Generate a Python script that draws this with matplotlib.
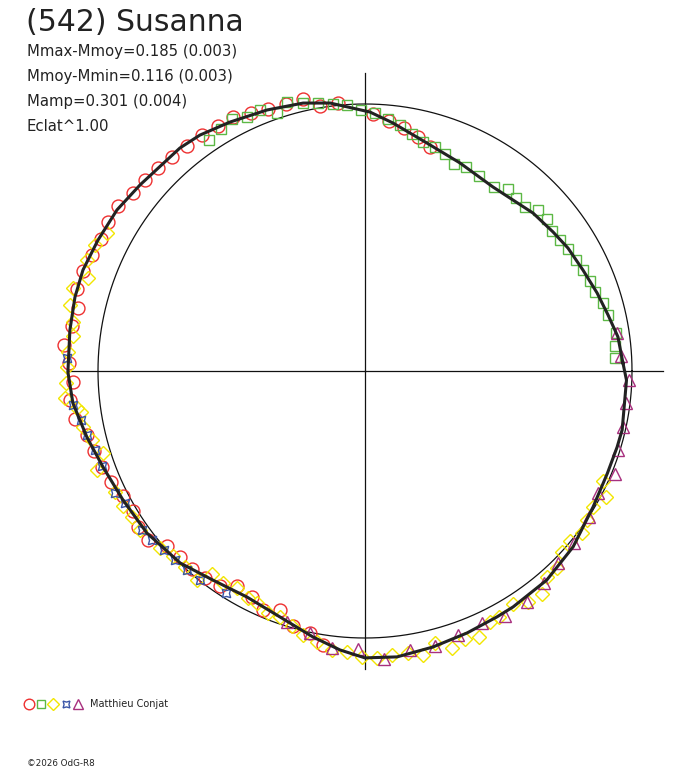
import numpy as np
import matplotlib
matplotlib.use("Agg")
import matplotlib.pyplot as plt
from matplotlib.lines import Line2D

plt.rcParams['font.family'] = ['DejaVu Sans']

# polar light curve of (542) Susanna: phase angle (deg) and magnitude minus mean
fit_phase = [1.8, 7.7, 13.0, 18.6, 24.9, 31.2, 36.5, 43.2, 55.2, 65.5, 74.8, 83.6,
             88.9, 97.4, 103.0, 110.6, 118.5, 125.0, 129.7, 140.4, 147.0, 153.9,
             160.3, 165.7, 172.1, 180.2, 186.3, 193.4, 200.1, 208.1, 216.6, 226.1,
             234.0, 242.4, 250.9, 258.9, 264.9, 270.0, 276.4, 283.8, 291.3, 298.2,
             302.1, 311.0, 319.8, 329.2, 337.1, 343.2, 347.1, 358.0]
fit_dmag = [0.037, 0.049, 0.074, 0.094, 0.115, 0.128, 0.144, 0.159, 0.190, 0.168,
            0.133, 0.073, 0.033, -0.013, -0.032, -0.047, -0.064, -0.082, -0.089,
            -0.097, -0.111, -0.117, -0.125, -0.124, -0.119, -0.116, -0.104, -0.074,
            -0.048, -0.029, -0.019, 0.002, 0.035, 0.050, 0.028, -0.016, -0.052,
            -0.078, -0.081, -0.068, -0.056, -0.048, -0.046, -0.040, -0.022, 0.006,
            0.016, 0.015, 0.013, 0.022]

red_phase = [73.8, 77.2, 80.9, 84.5, 88.2, 95.8, 99.6, 102.8, 106.5, 110.3, 113.8,
             117.5, 121.0, 124.6, 128.3, 132.0, 135.6, 139.0, 142.5, 146.3, 149.9,
             153.4, 157.0, 160.5, 164.1, 167.6, 171.3, 175.1, 178.5, 182.2, 185.6,
             189.4, 193.0, 196.4, 200.1, 203.6, 207.3, 211.1, 214.5, 217.9, 221.5,
             225.2, 228.9, 232.3, 236.0, 239.2, 243.4, 246.9, 250.4, 254.2, 258.1,
             261.3]
red_dmag = [0.147, 0.116, 0.088, 0.066, 0.041, -0.010, -0.007, -0.048, -0.046,
            -0.049, -0.060, -0.076, -0.074, -0.078, -0.078, -0.083, -0.089, -0.095,
            -0.099, -0.116, -0.116, -0.109, -0.114, -0.124, -0.125, -0.104, -0.114,
            -0.134, -0.112, -0.098, -0.113, -0.104, -0.072, -0.062, -0.052, -0.041,
            -0.022, -0.016, -0.034, -0.032, 0.011, 0.019, 0.017, 0.022, 0.032, 0.070,
            0.060, 0.029, 0.056, 0.008, -0.003, -0.041]

green_phase = [124.0, 120.8, 117.8, 114.9, 111.9, 108.8, 106.2, 103.0, 99.9, 96.8,
               93.9, 90.9, 87.8, 84.8, 81.9, 78.8, 75.8, 72.6, 69.8, 66.7, 63.7,
               59.7, 55.0, 51.8, 48.9, 45.7, 42.9, 39.9, 36.8, 33.9, 31.0, 27.7,
               24.9, 21.8, 19.0, 15.9, 13.0, 8.6, 5.7, 3.0]
green_dmag = [-0.047, -0.058, -0.071, -0.052, -0.057, -0.023, -0.052, -0.032, -0.021,
              -0.008, 0.002, 0.025, 0.036, 0.058, 0.078, 0.108, 0.133, 0.140, 0.156,
              0.184, 0.173, 0.182, 0.187, 0.155, 0.164, 0.166, 0.132, 0.129, 0.145,
              0.139, 0.130, 0.123, 0.115, 0.105, 0.101, 0.082, 0.074, 0.055, 0.066,
              0.070]

yellow_phase = [151.9, 155.0, 158.2, 161.4, 164.1, 167.4, 170.5, 173.2, 176.3, 179.2,
                182.3, 185.1, 187.3, 188.2, 191.2, 194.2, 197.4, 200.3, 205.8, 209.2,
                212.1, 215.2, 220.8, 223.9, 227.4, 231.2, 233.0, 236.2, 239.5, 242.7,
                245.0, 248.2, 250.9, 254.0, 256.8, 260.0, 263.3, 266.3, 269.4, 272.4,
                275.4, 278.7, 281.5, 284.4, 287.4, 290.5, 293.2, 296.5, 298.6, 302.4,
                305.2, 308.4, 311.5, 314.3, 317.4, 320.3, 323.3, 326.1, 329.2, 332.4,
                335.2]
yellow_dmag = [-0.099, -0.119, -0.124, -0.098, -0.139, -0.135, -0.112, -0.105, -0.118,
               -0.119, -0.124, -0.131, -0.091, -0.078, -0.080, -0.058, -0.030, -0.074,
               -0.043, -0.040, -0.032, -0.034, -0.016, 0.002, 0.004, -0.005, 0.053,
               0.049, 0.063, 0.048, 0.046, 0.026, 0.028, 0.007, -0.017, -0.033, -0.055,
               -0.058, -0.075, -0.079, -0.072, -0.072, -0.089, -0.055, -0.091, -0.075,
               -0.087, -0.053, -0.052, -0.036, -0.062, -0.070, -0.032, -0.032, -0.002,
               0.003, -0.015, -0.001, 0.006, -0.020, 0.020]

blue_phase = [177.5, 186.6, 189.8, 193.0, 196.3, 199.9, 206.0, 208.8, 215.5, 218.4,
              221.7, 224.8, 228.2, 231.7, 237.9]
blue_dmag = [-0.120, -0.104, -0.083, -0.072, -0.057, -0.050, -0.045, -0.028, -0.028,
             -0.020, -0.009, -0.004, 0.000, 0.003, 0.021]

purple_phase = [252.7, 258.1, 263.2, 268.6, 273.8, 279.2, 284.3, 289.4, 294.9, 299.7,
                305.0, 310.2, 315.1, 320.5, 326.9, 332.4, 337.6, 342.7, 347.8, 353.0,
                358.0, 3.4, 8.6]
purple_dmag = [0.017, -0.003, -0.048, -0.044, -0.085, -0.062, -0.066, -0.051, -0.043,
               -0.060, -0.060, -0.042, -0.021, -0.015, -0.002, 0.016, -0.014, 0.008,
               0.012, 0.017, 0.012, 0.044, 0.051]

title = "(542) Susanna"
info_lines = ["Mmax-Mmoy=0.185 (0.003)", "Mmoy-Mmin=0.116 (0.003)",
              "Mamp=0.301 (0.004)", "Eclat^1.00"]
observer = "Matthieu Conjat"
credit = "\u00a92026 OdG-R8"


def to_polar(phase, dmag):
    th = np.radians(np.asarray(phase))
    r = 10 ** (-0.4 * np.asarray(dmag))
    return th, r


W, H = 688, 768
fig = plt.figure(figsize=(W / 100, H / 100), dpi=100)

# polar area: centre at (365, 371) px, mean-circle radius 267 px
rmax = 1.15
rad_px = 267 * rmax
ax = fig.add_axes([(365 - rad_px) / W, (H - 371 - rad_px) / H,
                   2 * rad_px / W, 2 * rad_px / H], projection='polar')
ax.set_ylim(0, rmax)
ax.set_axis_off()

# mean circle and cross
tt = np.linspace(0, 2 * np.pi, 721)
ax.plot(tt, np.ones_like(tt), color='#111111', lw=0.9, zorder=2)
for a in (0, 0.5 * np.pi, np.pi, 1.5 * np.pi):
    ax.plot([a, a], [0, 1.115], color='#111111', lw=0.9, zorder=2)

series = [
    (red_phase, red_dmag, dict(marker='o', color='#ee3030', ms=9.3)),
    (green_phase, green_dmag, dict(marker='s', color='#5cb845', ms=7.8)),
    (yellow_phase, yellow_dmag, dict(marker='D', color='#f2e600', ms=7.2)),
    (blue_phase, blue_dmag, dict(marker=(4, 1, 45), color='#3a55a8', ms=8.5)),
    (purple_phase, purple_dmag, dict(marker='^', color='#a8307e', ms=8.5)),
]
for ph, dm, st in series:
    th, r = to_polar(ph, dm)
    ax.plot(th, r, ls='none', marker=st['marker'], ms=st['ms'], mfc='none',
            mec=st['color'], mew=1.0, clip_on=False, zorder=3)

# fitted curve (closed)
th, r = to_polar(fit_phase + [fit_phase[0] + 360], fit_dmag + [fit_dmag[0]])
ax.plot(th, r, color='#222222', lw=2.2, zorder=4, clip_on=False)

# header text
fig.text(26 / W, 1 - 31 / H, title, fontsize=21.5, color='#222222', va='baseline')
for i, s in enumerate(info_lines):
    fig.text(27 / W, 1 - (56 + 25 * i) / H, s, fontsize=10.7, color='#222222',
             va='baseline')

# observer legend
for i, (ph, dm, st) in enumerate(series):
    fig.add_artist(Line2D([(29 + 12.2 * i) / W], [1 - 704 / H], ls='none',
                          marker=st['marker'], ms=st['ms'] * 0.82, mfc='none',
                          mec=st['color'], mew=1.0, transform=fig.transFigure))
fig.text(90 / W, 1 - 704 / H, observer, fontsize=7, color='#222222', va='center')
fig.text(27 / W, 1 - 763 / H, credit, fontsize=6.3, color='#222222', va='center')

fig.savefig("out.png", dpi=100)
